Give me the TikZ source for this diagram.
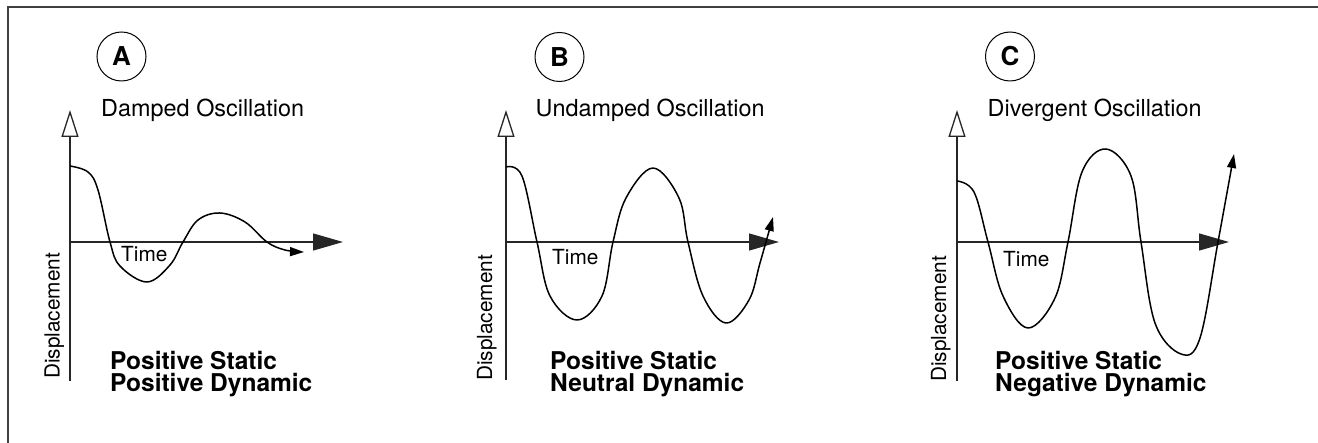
\documentclass[tikz,border=0pt]{standalone}
\usepackage{fontspec}
\setmainfont{TeX Gyre Heros}
\usetikzlibrary{arrows.meta}
\begin{document}
\begin{tikzpicture}[x=1pt,y=-1pt,
  frameline/.style={line width=2pt,draw=black!75},
  axisline/.style={line width=1.3pt,draw=black!85},
  yaxis/.style={axisline,-{Triangle[length=27pt,width=17pt,fill=white]}},
  xaxis/.style={axisline,-{Triangle[length=30pt,width=17pt]}},
  wave/.style={line width=1.5pt,draw=black,line join=round,-{Triangle[length=14pt,width=9pt]}},
  title/.style={font=\fontsize{23.4}{24}\selectfont,anchor=base west,inner sep=0pt},
  verdict/.style={font=\fontsize{24.5}{22.5}\bfseries\selectfont,anchor=base west,inner sep=0pt,align=left},
  timelbl/.style={font=\fontsize{20.8}{22}\selectfont,anchor=base west,inner sep=0pt},
  displbl/.style={font=\fontsize{20.8}{22}\selectfont,anchor=base west,inner sep=0pt,rotate=90},
  badge/.style={circle,draw=black,line width=1pt,minimum size=49pt,inner sep=0pt,font=\fontsize{26}{26}\bfseries\selectfont},
]
\useasboundingbox (0,0) rectangle (1318,443);
% frame
\draw[frameline] (7.5,443) -- (7.5,7.5) -- (1318,7.5);

% ---------------- A ----------------
\node[badge] (bA) at (121.5,56.5) {A};
\node[title] (tA) at (101,116.5) {Damped Oscillation};
\coordinate (oA) at (70,242);
\coordinate (bottomA) at (70,381);
\coordinate (topA) at (70,110);
\coordinate (rightA) at (343,242);
\draw[yaxis] (bottomA) -- (topA);
\draw[xaxis] (oA) -- (rightA);
\node[timelbl] (timeA) at (121,262) {Time};
\node[displbl] (dA) at (59.5,379) {Displacement};
\node[verdict] (vA) at (110,392) {Positive Static\\Positive Dynamic};
\draw[wave] plot[smooth,tension=0.6] coordinates {(70,166) (88,172) (98,190) (110,242) (120,266) (147,282) (170,265) (183,242) (198,220) (220,213) (245,222) (267,242) (285,250) (304,252)};

% ---------------- B ----------------
\node[badge] (bB) at (559.5,57) {B};
\node[title] (tB) at (535.5,116.5) {Undamped Oscillation};
\coordinate (oB) at (506,242);
\coordinate (bottomB) at (506,380);
\coordinate (topB) at (506,110);
\coordinate (rightB) at (779,242);
\draw[yaxis] (bottomB) -- (topB);
\draw[xaxis] (oB) -- (rightB);
\node[timelbl] (timeB) at (552,265) {Time};
\node[displbl] (dB) at (492,381) {Displacement};
\node[verdict] (vB) at (550,392) {Positive Static\\Neutral Dynamic};
\draw[wave] plot[smooth,tension=0.6] coordinates {(506,167) (522,176) (537,242) (550,296) (577,320) (602,296) (613,242) (626,198) (653,168) (679,198) (688,242) (703,296) (726,323) (749,300) (760,263) (773,217)};

% ---------------- C ----------------
\node[badge] (bC) at (1010,56.5) {C};
\node[title] (tC) at (987.5,116.5) {Divergent Oscillation};
\coordinate (oC) at (957,242);
\coordinate (bottomC) at (957,381);
\coordinate (topC) at (957,110);
\coordinate (rightC) at (1229,242);
\draw[yaxis] (bottomC) -- (topC);
\draw[xaxis] (oC) -- (rightC);
\node[timelbl] (timeC) at (1003,267) {Time};
\node[displbl] (dC) at (946,382) {Displacement};
\node[verdict] (vC) at (995,392) {Positive Static\\Negative Dynamic};
\draw[wave] plot[smooth,tension=0.6] coordinates {(957,181) (974,192) (988,242) (1003,296) (1028,328) (1055,298) (1068,242) (1082,172) (1106,149) (1131,176) (1141,242) (1155,323) (1181,354) (1200,338) (1218,242) (1234,154)};
\end{tikzpicture}
\end{document}
